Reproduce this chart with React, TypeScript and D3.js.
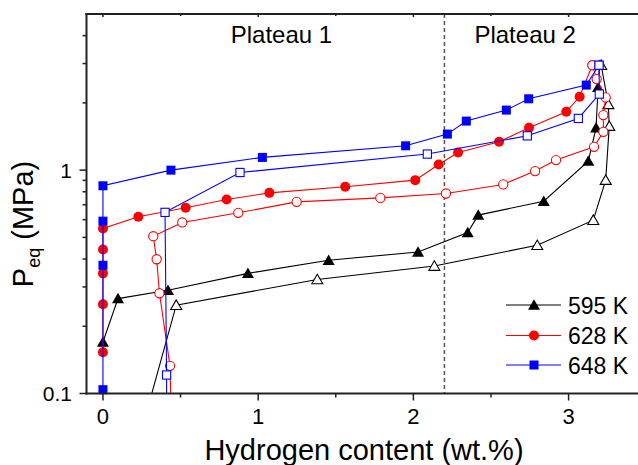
import React from "react";
import * as d3 from "d3";

const W = 638;
const H = 465;

// 595 K
const abs595X = [0, 0.097, 0.419, 0.934, 1.454, 2.03, 2.35, 2.418, 2.84, 3.127, 3.177, 3.19, 3.2];
const abs595P = [0.17, 0.266, 0.29, 0.345, 0.395, 0.43, 0.526, 0.629, 0.726, 1.097, 1.547, 2.35, 2.95];
const des595X = [3.21, 3.256, 3.262, 3.239, 3.159, 2.798, 2.135, 1.381, 0.472, 0.276];
const des595P = [2.95, 1.97, 1.574, 0.902, 0.597, 0.461, 0.372, 0.324, 0.2485, 0.08];

// 628 K
const abs628X = [0, 0, 0, 0, 0, 0.228, 0.533, 0.797, 1.072, 1.561, 2.012, 2.163, 2.288, 2.552, 2.745, 2.985, 3.071, 3.153];
const abs628P = [0.153, 0.251, 0.345, 0.441, 0.548, 0.618, 0.678, 0.739, 0.791, 0.842, 0.902, 1.06, 1.2, 1.339, 1.547, 1.824, 2.13, 2.95];
const des628X = [3.153, 3.181, 3.239, 3.224, 3.224, 3.164, 2.919, 2.784, 2.579, 2.21, 1.787, 1.248, 0.872, 0.511, 0.324, 0.346, 0.364, 0.432, 0.44];
const des628P = [2.95, 2.556, 2.116, 1.763, 1.484, 1.272, 1.109, 0.99, 0.863, 0.786, 0.751, 0.721, 0.644, 0.583, 0.506, 0.399, 0.281, 0.133, 0.08];

// 648 K
const abs648X = [0, 0, 0, 0, 0.438, 1.027, 1.95, 2.219, 2.341, 2.599, 2.743, 3.114, 3.196];
const abs648P = [0.104, 0.375, 0.591, 0.851, 1.0, 1.14, 1.285, 1.45, 1.658, 1.857, 2.086, 2.403, 2.95];
const des648X = [3.196, 3.198, 3.063, 2.734, 2.09, 0.883, 0.4, 0.41, 0.41];
const des648P = [2.95, 2.19, 1.704, 1.424, 1.18, 0.976, 0.647, 0.121, 0.08];

const xTicks = [0, 1, 2, 3];
const xMinorTicks = [0.5, 1.5, 2.5];
const yTicks = [0.1, 1];
const yMinorTicks = [0.2, 0.3, 0.4, 0.5, 0.6, 0.7, 0.8, 0.9, 2, 3, 4];
const legendLabels = ["595 K", "628 K", "648 K"];
const plateauLabels = ["Plateau 1", "Plateau 2"];
const plateauX = [1.15, 2.72];
const plateauBoundary = 2.2;

const FONT = "'Liberation Sans', Arial, sans-serif";

const left = 86.5, right = 646.2, top = 14, bottom = 393.5;
const x = d3.scaleLinear().domain([-0.106, 3.5]).range([left, right]);
const y = d3.scaleLog().domain([0.1, 5]).range([bottom, top]);

type Shape = "tri" | "circ" | "sq";

function Marker({ shape, cx, cy, color, filled }: { shape: Shape; cx: number; cy: number; color: string; filled: boolean }) {
  const fill = filled ? color : "white";
  const sw = filled ? 0 : 1.1;
  if (shape === "circ") return <circle cx={cx} cy={cy} r={filled ? 5 : 4.6} fill={fill} stroke={color} strokeWidth={sw} />;
  if (shape === "sq") {
    const s = filled ? 9 : 8.2;
    return <rect x={cx - s / 2} y={cy - s / 2} width={s} height={s} fill={fill} stroke={color} strokeWidth={sw} />;
  }
  const w = filled ? 12 : 11;
  const h = filled ? 10.5 : 9.5;
  const p = `M${cx - w / 2},${cy + h * 0.45} L${cx + w / 2},${cy + h * 0.45} L${cx},${cy - h * 0.55} Z`;
  return <path d={p} fill={fill} stroke={color} strokeWidth={sw} strokeLinejoin="miter" />;
}

function Series({ xs, ps, color, shape, filled }: { xs: number[]; ps: number[]; color: string; shape: Shape; filled: boolean }) {
  const pts = xs.map((v, i) => [v, ps[i]] as [number, number]);
  const line = d3.line<[number, number]>().x((d) => x(d[0])).y((d) => y(d[1]));
  return (
    <g>
      <path d={line(pts) || ""} fill="none" stroke={color} strokeWidth={1.1} clipPath="url(#plotclip)" />
      {pts
        .filter((d) => d[1] >= 0.1)
        .map((d, i) => (
          <Marker key={i} shape={shape} cx={x(d[0])} cy={y(d[1])} color={color} filled={filled} />
        ))}
    </g>
  );
}

export default function App() {
  const axisColor = "#222";
  const legendRows = [
    { label: legendLabels[0], color: "#000000", shape: "tri" as Shape },
    { label: legendLabels[1], color: "#ff0000", shape: "circ" as Shape },
    { label: legendLabels[2], color: "#0000ff", shape: "sq" as Shape },
  ];
  const legendY = [305, 335.5, 365];
  return (
    <svg width={W} height={H} style={{ position: "absolute", left: 0, top: 0, background: "white" }} fontFamily={FONT}>
      <defs>
        <clipPath id="plotclip">
          <rect x={left} y={top} width={right - left} height={bottom - top} />
        </clipPath>
      </defs>
      <rect x={0} y={0} width={W} height={H} fill="white" />

      {/* dashed divider */}
      <line x1={x(plateauBoundary)} x2={x(plateauBoundary)} y1={top} y2={bottom} stroke="#555" strokeWidth={1.5} strokeDasharray="4,3" />

      {/* plateau labels */}
      {plateauLabels.map((t, i) => (
        <text key={t} x={x(plateauX[i])} y={43} fontSize={24} textAnchor="middle" fill="#000">
          {t}
        </text>
      ))}

      {/* data */}
      <Series xs={abs595X} ps={abs595P} color="#000000" shape="tri" filled={true} />
      <Series xs={des595X} ps={des595P} color="#000000" shape="tri" filled={false} />
      <Series xs={abs628X} ps={abs628P} color="#ff0000" shape="circ" filled={true} />
      <Series xs={des628X} ps={des628P} color="#ff0000" shape="circ" filled={false} />
      <Series xs={abs648X} ps={abs648P} color="#0000ff" shape="sq" filled={true} />
      <Series xs={des648X} ps={des648P} color="#0000ff" shape="sq" filled={false} />

      {/* axes frame */}
      <line x1={left} x2={left} y1={top - 1} y2={bottom + 1} stroke={axisColor} strokeWidth={2} />
      <line x1={left - 1} x2={W + 10} y1={bottom} y2={bottom} stroke={axisColor} strokeWidth={2} />
      <line x1={left - 1} x2={W + 10} y1={top} y2={top} stroke={axisColor} strokeWidth={2} />

      {/* x ticks */}
      {xTicks.map((t) => (
        <g key={"xt" + t}>
          <line x1={x(t)} x2={x(t)} y1={bottom} y2={bottom + 7} stroke={axisColor} strokeWidth={1.5} />
          <line x1={x(t)} x2={x(t)} y1={top} y2={top + 3} stroke={axisColor} strokeWidth={1.5} />
          <text x={x(t)} y={424} fontSize={22} textAnchor="middle" fill="#000">
            {t}
          </text>
        </g>
      ))}
      {xMinorTicks.map((t) => (
        <g key={"xm" + t}>
          <line x1={x(t)} x2={x(t)} y1={bottom} y2={bottom + 4} stroke={axisColor} strokeWidth={1.5} />
          <line x1={x(t)} x2={x(t)} y1={top} y2={top + 2} stroke={axisColor} strokeWidth={1.5} />
        </g>
      ))}

      {/* y ticks */}
      {yTicks.map((t) => (
        <g key={"yt" + t}>
          <line x1={left - 7} x2={left} y1={y(t)} y2={y(t)} stroke={axisColor} strokeWidth={1.5} />
          <text x={72} y={y(t) + 7.5} fontSize={21} textAnchor="end" fill="#000">
            {t}
          </text>
        </g>
      ))}
      {yMinorTicks.map((t) => (
        <line key={"ym" + t} x1={left - 4} x2={left} y1={y(t)} y2={y(t)} stroke={axisColor} strokeWidth={1.5} />
      ))}

      {/* axis titles */}
      <text x={364} y={460} fontSize={29} textAnchor="middle" fill="#000">
        Hydrogen content (wt.%)
      </text>
      <text transform="translate(33,224) rotate(-90)" fontSize={29} textAnchor="middle" fill="#000">
        P<tspan fontSize={18} dy={7}>eq</tspan>
        <tspan dy={-7}> (MPa)</tspan>
      </text>

      {/* legend */}
      {legendRows.map((r, i) => (
        <g key={r.label}>
          <line x1={506} x2={561} y1={legendY[i]} y2={legendY[i]} stroke={r.color} strokeWidth={1.1} />
          <Marker shape={r.shape} cx={534} cy={legendY[i]} color={r.color} filled={true} />
          <text x={568} y={legendY[i] + 8.5} fontSize={23} fill="#000">
            {r.label}
          </text>
        </g>
      ))}
    </svg>
  );
}
